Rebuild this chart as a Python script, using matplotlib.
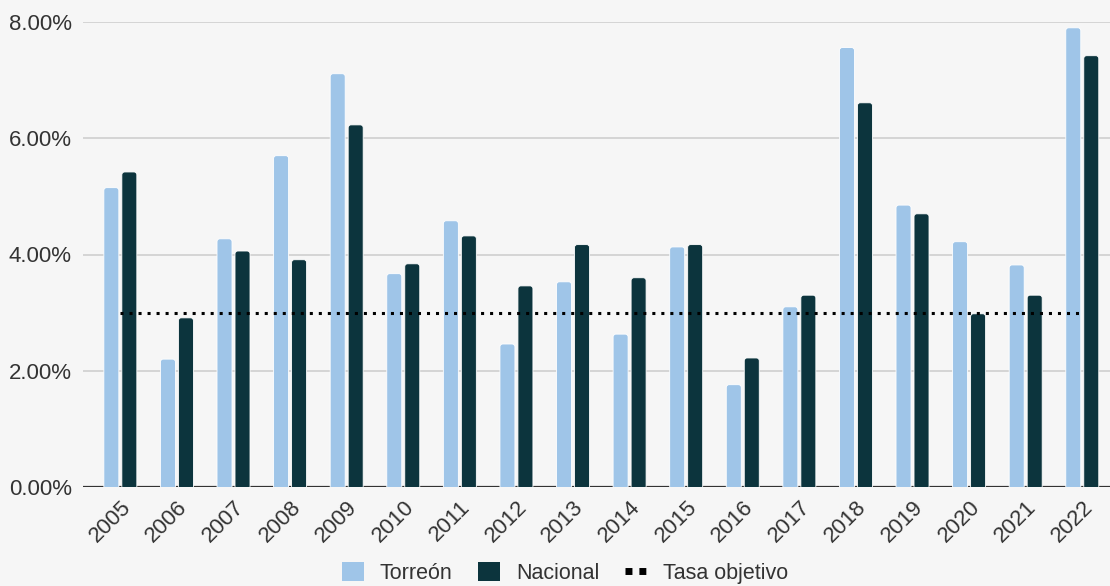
import matplotlib
matplotlib.use("Agg")
import matplotlib.pyplot as plt
from matplotlib.lines import Line2D
from matplotlib.patches import Patch, FancyBboxPatch
import numpy as np

plt.rcParams['font.family'] = ['Liberation Sans', 'DejaVu Sans']

years = ["2005", "2006", "2007", "2008", "2009", "2010", "2011", "2012", "2013",
         "2014", "2015", "2016", "2017", "2018", "2019", "2020", "2021", "2022"]
torreon = [5.15, 2.20, 4.27, 5.70, 7.11, 3.67, 4.58, 2.46, 3.53,
           2.63, 4.13, 1.76, 3.10, 7.56, 4.85, 4.22, 3.82, 7.90]
nacional = [5.42, 2.91, 4.06, 3.91, 6.23, 3.84, 4.32, 3.46, 4.17,
            3.60, 4.17, 2.22, 3.30, 6.61, 4.70, 2.98, 3.30, 7.42]
tasa_objetivo = 3.0
yticks = [0, 2, 4, 6, 8]

c_t = "#9fc5e8"
c_n = "#0c343d"
bg = "#f6f6f6"
txt = "#333333"

fig = plt.figure(figsize=(11.10, 5.86), dpi=100)
fig.patch.set_facecolor(bg)
ax = fig.add_axes([83/1110, (586-487)/586, 1 - 83/1110, (487-22)/586])
ax.set_facecolor(bg)

x = np.arange(len(years))
w = 0.265
off = 0.159
bars_t = ax.bar(x - off, torreon, width=w, color=c_t, zorder=3)
bars_n = ax.bar(x + off, nacional, width=w, color=c_n, zorder=3)

# round the top corners of each bar
for bars, col in ((bars_t, c_t), (bars_n, c_n)):
    for r in bars:
        bx, by = r.get_x(), r.get_y()
        bw, bh = r.get_width(), r.get_height()
        r.set_visible(False)
        p = FancyBboxPatch((bx, by - 0.2), bw, bh + 0.2,
                           boxstyle="round,pad=0,rounding_size=0.05",
                           mutation_aspect=56.6/58.1,
                           facecolor=col, edgecolor="white", linewidth=0.6,
                           zorder=3, clip_on=True)
        ax.add_patch(p)

ax.plot([x[0], x[-1]], [tasa_objetivo, tasa_objetivo], color="black", lw=2.2,
        linestyle=(0, (1, 1.95)), zorder=4)

ax.set_xlim(-0.66, 17.49)
ax.set_ylim(0, 8)
ax.set_yticks(yticks)
ax.set_yticklabels([f"{v:.2f}%" for v in yticks])
ax.yaxis.grid(True, color="#d2d2d2", lw=1.3, zorder=0)
ax.axhline(0, color=txt, lw=1.6, zorder=2)
ax.set_xticks(x)
ax.set_xticklabels(years, rotation=45, ha="right", rotation_mode="anchor")
ax.tick_params(axis="both", length=0, labelsize=16, colors=txt)
ax.tick_params(axis="x", pad=7)
ax.tick_params(axis="y", pad=8)
for s in ax.spines.values():
    s.set_visible(False)

handles = [Patch(facecolor=c_t, label="Torreón"),
           Patch(facecolor=c_n, label="Nacional"),
           Line2D([0], [0], color="black", lw=5, linestyle=(0, (1, 1)), label="Tasa objetivo")]
leg = fig.legend(handles=handles, loc="center", bbox_to_anchor=(0.509, (586-573)/586),
                 ncol=3, frameon=False, fontsize=15.5, handlelength=1.0, handleheight=1.0,
                 columnspacing=1.2, handletextpad=0.75)
for t in leg.get_texts():
    t.set_color(txt)

fig.savefig("out.png", dpi=100, facecolor=bg)
